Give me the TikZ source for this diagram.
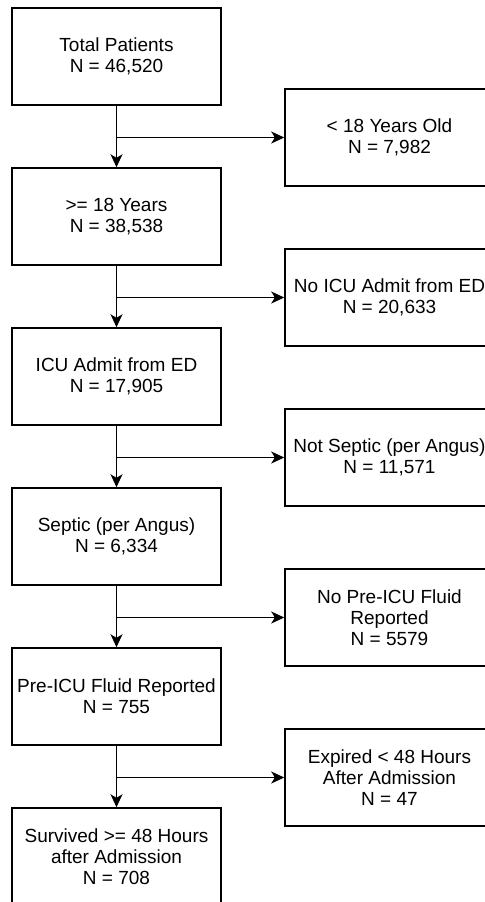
\documentclass[tikz,border=0pt]{standalone}
\usepackage{fontspec}
\setmainfont{Liberation Sans}
\usetikzlibrary{arrows.meta}
\tikzset{
  caja/.style={draw, line width=0.75pt, minimum width=104.5pt, minimum height=48.5pt,
    inner sep=2pt, align=center, font=\fontsize{9.5}{10.5}\selectfont},
  flecha/.style={line width=0.75pt, -{Stealth[length=6.5pt,width=6pt,inset=1.8pt]}}
}
\begin{document}
\begin{tikzpicture}[x=0.5pt,y=-0.5pt]
        % Marco de la figura
        \useasboundingbox (0,0) rectangle (485,902);
        \clip (0,0) rectangle (485,902);

        % Cajas principales (columna izquierda)
        \node[caja] (total) at (116.5,56.5) {Total Patients\\N = 46,520};
        \node[caja] (adultos) at (116.5,216.5) {>= 18 Years\\N = 38,538};
        \node[caja] (uci) at (116.5,376.5) {ICU Admit from ED\\N = 17,905};
        \node[caja] (septico) at (116.5,536.5) {Septic (per Angus)\\N = 6,334};
        \node[caja] (fluido) at (116.5,696.5) {Pre-ICU Fluid Reported\\N = 755};
        \node[caja] (vivos) at (116.5,856.5) {Survived >= 48 Hours\\after Admission\\N = 708};

        % Cajas excluidas (columna derecha)
        \node[caja] (menores) at (389.5,137.5) {< 18 Years Old\\N = 7,982};
        \node[caja] (nouci) at (389.5,297.5) {No ICU Admit from ED\\N = 20,633};
        \node[caja] (noseptico) at (389.5,457.5) {Not Septic (per Angus)\\N = 11,571};
        \node[caja] (nofluido) at (389.5,617.5) {No Pre-ICU Fluid\\Reported\\N = 5579};
        \node[caja] (muertos) at (389.5,777.5) {Expired < 48 Hours\\After Admission\\N = 47};

        % Flechas hacia abajo
        \draw[flecha] (total) -- (adultos);
        \draw[flecha] (adultos) -- (uci);
        \draw[flecha] (uci) -- (septico);
        \draw[flecha] (septico) -- (fluido);
        \draw[flecha] (fluido) -- (vivos);

        % Flechas laterales
        \draw[flecha] (total.south |- menores.west) -- (menores.west);
        \draw[flecha] (adultos.south |- nouci.west) -- (nouci.west);
        \draw[flecha] (uci.south |- noseptico.west) -- (noseptico.west);
        \draw[flecha] (septico.south |- nofluido.west) -- (nofluido.west);
        \draw[flecha] (fluido.south |- muertos.west) -- (muertos.west);
    \end{tikzpicture}
\end{document}
